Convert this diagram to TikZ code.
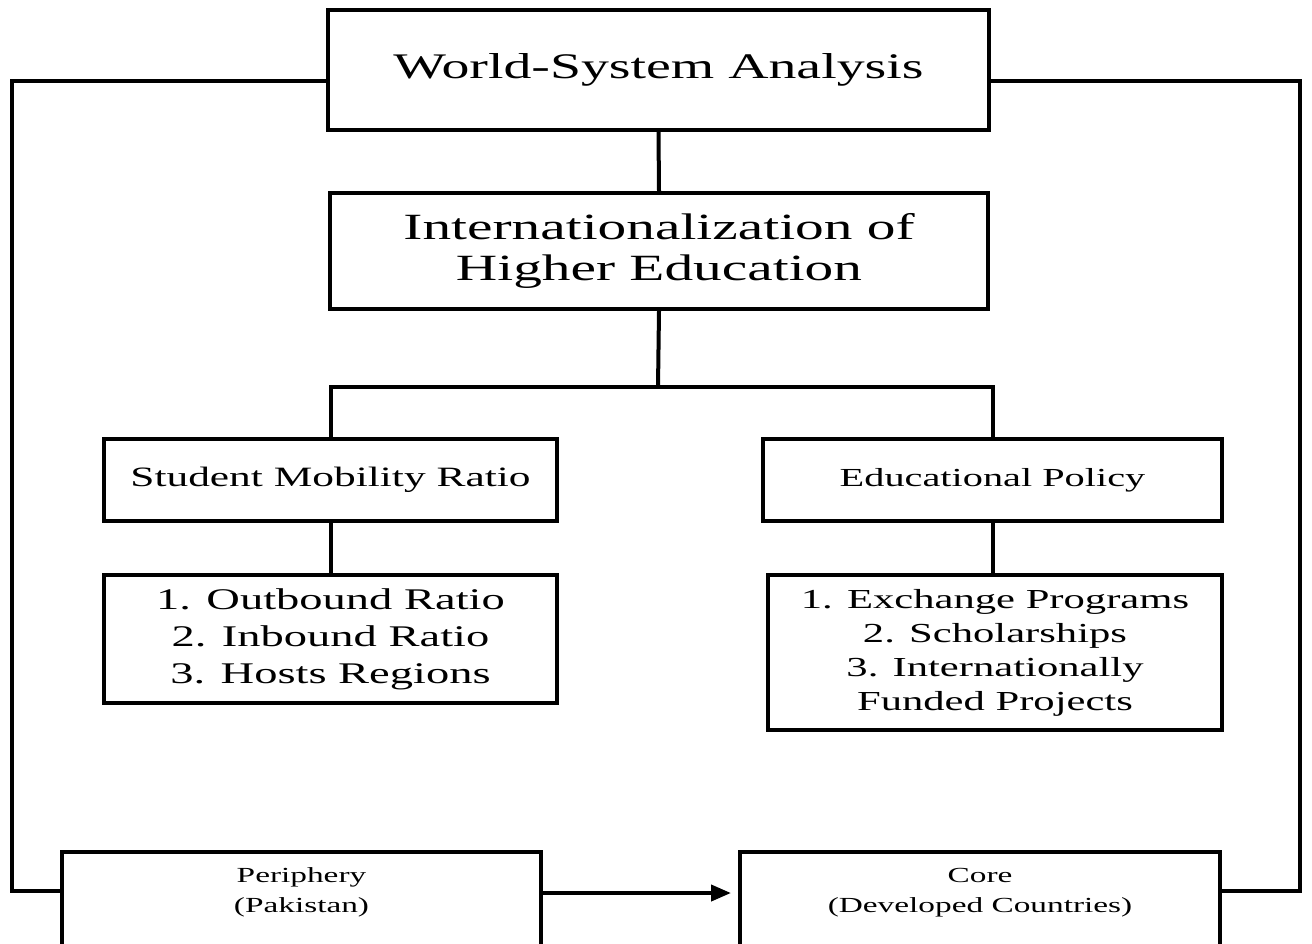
\documentclass[tikz,border=0pt]{standalone}
\usepackage{fontspec}
\setmainfont{Liberation Serif}[FakeStretch=1.55]
\usetikzlibrary{arrows.meta}
\begin{document}
\begin{tikzpicture}[x=1pt,y=-1pt,
  box/.style={draw=black, line width=4pt, fill=white, align=center, inner sep=0pt},
  link/.style={draw=black, line width=4pt},
  flow/.style={draw=black, line width=4pt, -{Triangle[length=20pt,width=16pt]}, shorten >=7pt}]
\useasboundingbox (0,0) rectangle (1312,943);
\fill[white] (0,0) rectangle (1312,943);

% top-level boxes
\node[box, minimum width=661, minimum height=120,
      font=\fontsize{36}{40}\selectfont] (wsa) at (658.5,70) {World-System Analysis};
\node[box, minimum width=658, minimum height=116,
      font=\fontsize{37}{41}\selectfont] (ihe) at (659,251)
      {Internationalization of\\Higher Education};

% second level
\node[box, minimum width=453, minimum height=82,
      font=\fontsize{28}{30}\selectfont] (smr) at (330.5,480) {Student Mobility Ratio};
\node[box, minimum width=459, minimum height=82,
      font=\fontsize{26}{30}\selectfont] (ep) at (992.5,480) {Educational Policy};

% indicator lists
\node[box, minimum width=453, minimum height=128,
      font=\fontsize{30}{37}\selectfont] (l1) at (330.5,639)
      {1. Outbound Ratio\\2. Inbound Ratio\\3. Hosts Regions};
\node[box, minimum width=454, minimum height=155,
      font=\fontsize{27.5}{34}\selectfont] (l2) at (995,652.5)
      {1. Exchange Programs\\2. Scholarships\\3. Internationally\\Funded Projects};

% periphery and core (boxes run past the lower edge)
\node[box, minimum width=479, minimum height=100, text depth=24pt,
      font=\fontsize{21.5}{30}\selectfont] (per) at (301.5,902)
      {Periphery\\(Pakistan)};
\node[box, minimum width=480, minimum height=100, text depth=24pt,
      font=\fontsize{21.5}{30}\selectfont] (core) at (980,902)
      {Core\\(Developed Countries)};

% tree connectors
\coordinate (bus) at (658,387);
\draw[link] (wsa.south) -- (ihe.north);
\draw[link] (ihe.south) -- (bus);
\draw[link] (smr.north) |- (bus) -| (ep.north);
\draw[link] (smr.south) -- (l1.north);
\draw[link] (ep.south) -- (ep.south |- l2.north);

% outer frame
\coordinate (lt) at (12,81);
\coordinate (lb) at (12,891);
\coordinate (rt) at (1300,81);
\coordinate (rb) at (1300,891);
\draw[link] (wsa.west |- lt) -- (lt) -- (lb) -- (per.west |- lb);
\draw[link] (wsa.east |- rt) -- (rt) -- (rb) -- (core.east |- rb);

% periphery to core
\draw[flow] (per.east |- 0,893) -- (core.west |- 0,893);
\end{tikzpicture}
\end{document}
